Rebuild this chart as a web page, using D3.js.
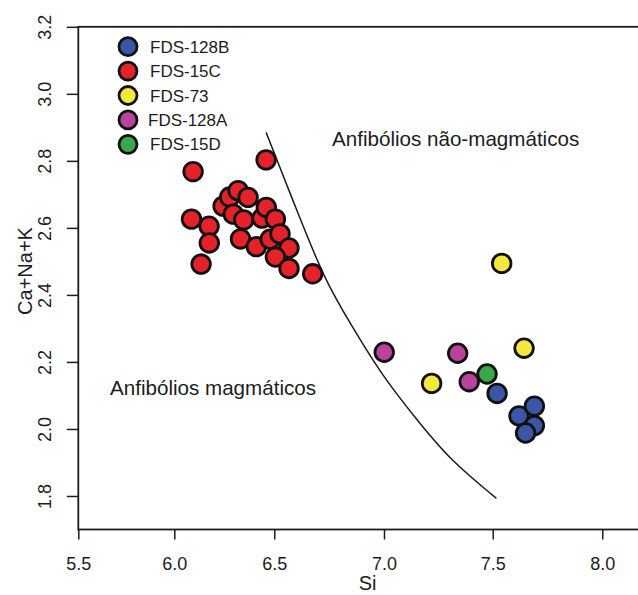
<!DOCTYPE html>
<html>
<head>
<meta charset="utf-8">
<script src="https://cdn.jsdelivr.net/npm/d3@7"></script>
<style>
    body { margin: 0; background: #fff; }
    svg { font-family: "Liberation Sans", Arial, sans-serif; }
</style>
</head>
<body>
<svg id="chart"></svg>
<script>
/**
 * Data (Si vs Ca+Na+K)
 */
var seriesNames = ["FDS-128B", "FDS-15C", "FDS-73", "FDS-128A", "FDS-15D"];
var seriesColors = ["#3b56a6", "#e5222a", "#f3e83c", "#b8429c", "#3aa848"];

var fds128B = [
    [7.52, 2.106], [7.62, 2.039], [7.69, 2.068], [7.69, 2.010], [7.65, 1.988]
];
var fds15C = [
    [6.094, 2.768], [6.459, 2.803], [6.086, 2.626], [6.174, 2.605],
    [6.175, 2.555], [6.134, 2.492], [6.244, 2.665], [6.277, 2.692],
    [6.319, 2.711], [6.369, 2.691], [6.295, 2.641], [6.347, 2.624],
    [6.331, 2.567], [6.410, 2.544], [6.439, 2.629], [6.460, 2.661],
    [6.505, 2.626], [6.479, 2.566], [6.526, 2.582], [6.567, 2.540],
    [6.505, 2.513], [6.567, 2.479], [6.675, 2.463]
];
var fds73 = [[7.541, 2.494], [7.643, 2.241], [7.219, 2.136]];
var fds128A = [[7.001, 2.229], [7.339, 2.226], [7.392, 2.141]];
var fds15D = [[7.474, 2.164]];

// boundary between magmatic and non-magmatic amphiboles
var boundary = [
    [6.459, 2.885], [6.620, 2.623], [6.731, 2.444], [6.845, 2.316],
    [6.995, 2.155], [7.152, 2.027], [7.304, 1.907], [7.517, 1.793]
];

var xTicks = [5.5, 6.0, 6.5, 7.0, 7.5, 8.0];
var yTicks = [1.8, 2.0, 2.2, 2.4, 2.6, 2.8, 3.0, 3.2];

var w = 638;
var h = 595;
var ink = "#1c1c1c";

var svg = d3.select("#chart").attr("width", w).attr("height", h);

// X scale (the source figure is not evenly spaced along x)
var x = d3.scaleLinear()
    .domain([5.5, 6.0, 6.5, 7.0, 7.5, 8.0, 8.25])
    .range([78.3, 174.3, 274.3, 384, 492.7, 602.3, 657]);

// Y scale
var y = d3.scaleLinear()
    .domain([1.7, 3.2])
    .range([529.5, 26.8]);

// Plot box (right side runs off the picture)
svg.append("rect")
    .attr("x", x(5.5))
    .attr("y", y(3.2))
    .attr("width", x(8.25) - x(5.5))
    .attr("height", y(1.7) - y(3.2))
    .attr("fill", "none")
    .attr("stroke", ink)
    .attr("stroke-width", 1.8);

// X-axis
var xAxis = svg.append("g")
    .attr("transform", "translate(0," + y(1.7) + ")")
    .call(d3.axisBottom(x)
        .tickValues(xTicks)
        .tickFormat(d3.format(".1f"))
        .tickSize(10)
        .tickPadding(18));
xAxis.select(".domain").remove();
xAxis.selectAll("line").attr("stroke", ink).attr("stroke-width", 1.5);
xAxis.selectAll("text")
    .attr("fill", ink)
    .style("font-size", "18px");

// Y-axis with vertical labels
var yAxis = svg.append("g")
    .attr("transform", "translate(" + x(5.5) + ",0)")
    .call(d3.axisLeft(y)
        .tickValues(yTicks)
        .tickFormat(d3.format(".1f"))
        .tickSize(11.5));
yAxis.select(".domain").remove();
yAxis.selectAll("line").attr("stroke", ink).attr("stroke-width", 1.5);
yAxis.selectAll("text")
    .attr("x", null)
    .attr("dy", null)
    .attr("text-anchor", "middle")
    .attr("transform", "translate(-27,0) rotate(-90)")
    .attr("fill", ink)
    .style("font-size", "18px");

// Axis labels
svg.append("text")
    .attr("text-anchor", "middle")
    .attr("transform", "translate(32,271)rotate(-90)")
    .attr("fill", ink)
    .style("font-size", "20px")
    .text("Ca+Na+K");

svg.append("text")
    .attr("text-anchor", "middle")
    .attr("x", (x(5.5) + x(8.25)) / 2)
    .attr("y", 590)
    .attr("fill", ink)
    .style("font-size", "20px")
    .text("Si");

// Boundary curve
svg.append("path")
    .datum(boundary)
    .attr("fill", "none")
    .attr("stroke", ink)
    .attr("stroke-width", 1.5)
    .attr("d", d3.line()
        .x(function(d) { return x(d[0]); })
        .y(function(d) { return y(d[1]); })
        .curve(d3.curveBasis));

// Field labels
svg.append("text")
    .attr("x", 110)
    .attr("y", 395)
    .attr("fill", ink)
    .style("font-size", "20.6px")
    .text("Anfibólios magmáticos");

svg.append("text")
    .attr("x", 332)
    .attr("y", 146)
    .attr("fill", ink)
    .style("font-size", "20.6px")
    .text("Anfibólios não-magmáticos");

// Points, drawn series by series
var allSeries = [fds128B, fds15C, fds73, fds128A, fds15D];
var drawOrder = [1, 3, 2, 4, 0];

drawOrder.forEach(function(i) {
    svg.append("g").selectAll("circle")
        .data(allSeries[i])
        .enter()
        .append("circle")
        .attr("cx", function(d) { return x(d[0]); })
        .attr("cy", function(d) { return y(d[1]); })
        .attr("r", 9.3)
        .attr("fill", seriesColors[i])
        .attr("stroke", "#111")
        .attr("stroke-width", 2.8);
});

// Legend
var legend = svg.append("g").selectAll("g")
    .data(seriesNames)
    .enter()
    .append("g")
    .attr("transform", function(d, i) {
        return "translate(128," + (46.7 + i * 24.4) + ")";
    });

legend.append("circle")
    .attr("r", 9)
    .attr("fill", function(d, i) { return seriesColors[i]; })
    .attr("stroke", "#111")
    .attr("stroke-width", 2.8);

legend.append("text")
    .attr("x", function(d) { return d === "FDS-128A" ? 20 : 22; })
    .attr("y", 6)
    .attr("fill", ink)
    .style("font-size", "17px")
    .text(function(d) { return d; });
</script>
</body>
</html>
